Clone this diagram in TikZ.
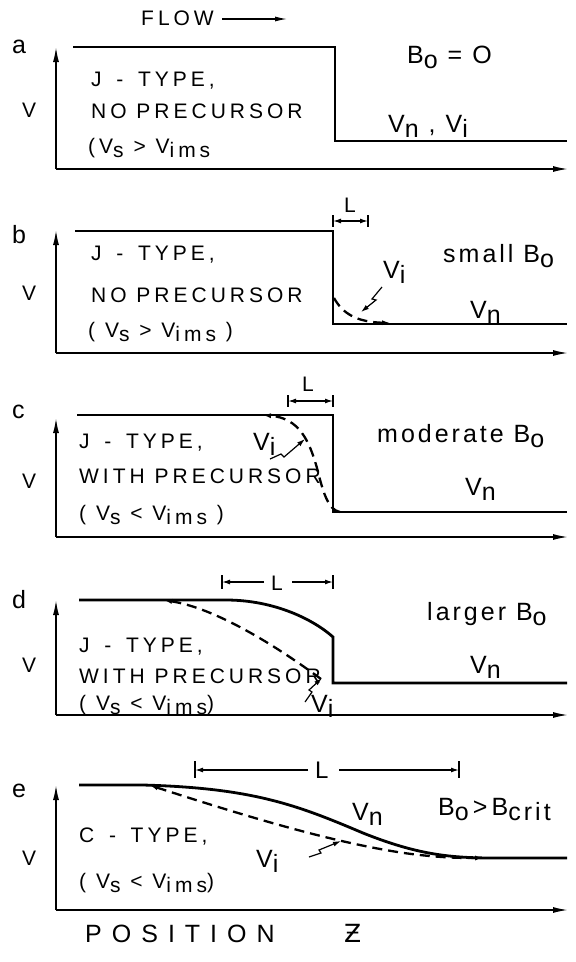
\documentclass[tikz,border=0pt]{standalone}
\usepackage{fontspec}
\setmainfont{Liberation Sans}[LetterSpace=19]
\newfontfamily\rf{Liberation Sans}[LetterSpace=12]
\newfontfamily\pf{Liberation Sans}[LetterSpace=40]
\newfontfamily\zf{DejaVu Sans}
\usetikzlibrary{arrows.meta}
\newcommand\lowsub[1]{\raisebox{-0.22em}{#1}}
\newcommand\dsh{\hspace{.7em}-\hspace{.7em}}
\begin{document}
\begin{tikzpicture}[x=1pt,y=-1pt,
  axisline/.style={line width=1.5pt,-{Latex[length=15pt,width=6pt]}},
  mainline/.style={line width=2.8pt,line join=miter},
  dashline/.style={line width=2.3pt,dash pattern=on 10pt off 6pt},
  ltext/.style={anchor=base west,font=\fontsize{21}{21}\selectfont,inner sep=0pt},
  rtext/.style={anchor=base west,font=\rf\fontsize{25}{25}\selectfont,inner sep=0pt},
  ptext/.style={anchor=base west,font=\rf\fontsize{25}{25}\selectfont,inner sep=0pt},
  vtext/.style={anchor=base west,font=\rf\fontsize{21}{21}\selectfont,inner sep=0pt},
  tickline/.style={line width=1.3pt},
  dimarrow/.style={line width=1.3pt,-{Latex[length=8pt,width=5pt]}},
  pointer/.style={line width=1.2pt,-{Latex[length=8pt,width=5pt]}},
  smalltip/.style={-{Latex[length=9pt,width=5pt]}},
]
\useasboundingbox (0,0) rectangle (576,962);

% ---------------- panel a ----------------
\node[ptext] (pa) at (12,53) {a};
\node[ltext] (flow) at (141,25) {FLOW};
\coordinate (fs) at (222,19);
\coordinate (fe) at (287,19);
\draw[line width=1.2pt,-{Latex[length=12pt,width=5pt]}] (fs) -- (fe);
\node[vtext] (va) at (22,117) {V};
\coordinate (oa) at (56,169);
\draw[axisline] (oa) -- (56,47);
\draw[axisline] (oa) -- (568,169);
\draw[mainline] (73,47) -- (335,47) -- (335,141) -- (567,141);
\node[ltext] (a1) at (91,86) {J\dsh TYPE,};
\node[ltext] (a2) at (91,118) {NO PRECURSOR};
\node[ltext] (a3) at (88,153) {(V\lowsub{s} > V\lowsub{ims}};
\node[rtext] (a4) at (407,63) {B\lowsub{o} = O};
\node[rtext] (a5) at (388,132) {V\lowsub{n} , V\lowsub{i}};

% ---------------- panel b ----------------
\node[ptext] (pb) at (12,243) {b};
\node[vtext] (vb) at (22,300) {V};
\coordinate (ob) at (56,353);
\draw[axisline] (ob) -- (56,230);
\draw[axisline] (ob) -- (568,353);
\draw[mainline] (75,231) -- (333,231) -- (333,324) -- (567,324);
\draw[dashline,smalltip] (334,298) .. controls (343,314) and (357,322) .. (391,323);
\draw[tickline] (333,215) -- (333,227);
\draw[tickline] (368,215) -- (368,227);
\coordinate (bl1) at (333,221);
\coordinate (bl2) at (368,221);
\draw[dimarrow,{Latex[length=8pt,width=5pt]}-{Latex[length=8pt,width=5pt]}] (bl1) -- (bl2);
\node[ltext] (bL) at (344,212) {L};
\node[rtext] (bvi) at (383,278) {V\lowsub{i}};
\draw[pointer] (382,287) -- (372,299) -- (376,300) -- (361,312);
\node[rtext] (b1) at (443,262) {small B\lowsub{o}};
\node[rtext] (b2) at (470,318) {V\lowsub{n}};
\node[ltext] (b3) at (91,260) {J\dsh TYPE,};
\node[ltext] (b4) at (91,302) {NO PRECURSOR};
\node[ltext] (b5) at (88,337) {( V\lowsub{s} > V\lowsub{ims} )};

% ---------------- panel c ----------------
\node[ptext] (pc) at (12,418) {c};
\node[vtext] (vc) at (22,488) {V};
\coordinate (oc) at (56,537);
\draw[axisline] (oc) -- (56,418);
\draw[axisline] (oc) -- (568,537);
\draw[mainline] (77,415) -- (333,415) -- (333,512) -- (567,512);
\draw[dashline,smalltip] (340,512) .. controls (328,510) and (323,492) .. (317,468)
   .. controls (309,440) and (299,418) .. (262,415);
\draw[tickline] (288,395) -- (288,407);
\draw[tickline] (333,395) -- (333,407);
\coordinate (cl1) at (288,401);
\coordinate (cl2) at (333,401);
\draw[dimarrow,{Latex[length=8pt,width=5pt]}-{Latex[length=8pt,width=5pt]}] (cl1) -- (cl2);
\node[ltext] (cL) at (302,391) {L};
\node[ltext] (c1) at (79,448) {J\dsh TYPE,};
\node[rtext] (cvi) at (253,450) {V\lowsub{i}};
\draw[pointer] (270,459) -- (281,454) -- (284,457) -- (305,439);
\node[ltext] (c2) at (79,483) {WITH PRECURSOR};
\node[ltext] (c3) at (79,520) {( V\lowsub{s} < V\lowsub{ims} )};
\node[rtext] (c4) at (377,442) {moderate B\lowsub{o}};
\node[rtext] (c5) at (465,495) {V\lowsub{n}};

% ---------------- panel d ----------------
\node[ptext] (pd) at (12,608) {d};
\node[vtext] (vd) at (22,672) {V};
\coordinate (od) at (56,715);
\draw[axisline] (od) -- (56,600);
\draw[axisline] (od) -- (568,715);
\draw[mainline] (79,600) -- (226,600) .. controls (275,600) and (314,620) .. (333,637)
   -- (333,683) -- (567,683);
\draw[dashline,smalltip] (321,679) .. controls (275,645) and (215,608) .. (163,600);
\draw[tickline] (222,575) -- (222,589);
\draw[tickline] (333,575) -- (333,589);
\node[ltext] (dL) at (271,590) {L};
\coordinate (dl1) at (264,582);
\coordinate (dl2) at (222,582);
\coordinate (dl3) at (292,582);
\coordinate (dl4) at (333,582);
\draw[dimarrow] (dl1) -- (dl2);
\draw[dimarrow] (dl3) -- (dl4);
\node[ltext] (d1) at (79,652) {J\dsh TYPE,};
\node[ltext] (d2) at (79,683) {WITH PRECURSOR};
\node[ltext] (d3) at (79,710) {( V\lowsub{s} < V\lowsub{ims})};
\node[rtext] (dvi) at (311,712) {V\lowsub{i}};
\draw[pointer] (305,702) -- (312,692) -- (309,690) -- (322,678);
\node[rtext] (d4) at (427,620) {larger B\lowsub{o}};
\node[rtext] (d5) at (470,673) {V\lowsub{n}};

% ---------------- panel e ----------------
\node[ptext] (pe) at (12,797) {e};
\node[vtext] (ve) at (22,865) {V};
\coordinate (oe) at (56,910);
\draw[axisline] (oe) -- (56,785);
\draw[axisline] (oe) -- (568,910);
\draw[mainline] (79,785) -- (143,785) .. controls (253,788) and (297,805) .. (363,833)
   .. controls (418,855) and (451,858) .. (495,858) -- (567,858);
\draw[dashline,{Latex[length=9pt,width=5pt]}-{Latex[length=9pt,width=5pt]}]
   (149,785) .. controls (242,815) and (330,842) .. (404,853)
   .. controls (440,858) and (462,858) .. (484,858);
\draw[tickline] (195,761) -- (195,778);
\draw[tickline] (459,761) -- (459,778);
\node[ltext,font=\fontsize{24}{24}\selectfont] (eL) at (315,778) {L};
\coordinate (el1) at (308,770);
\coordinate (el2) at (195,770);
\coordinate (el3) at (339,770);
\coordinate (el4) at (459,770);
\draw[dimarrow] (el1) -- (el2);
\draw[dimarrow] (el3) -- (el4);
\node[rtext] (evn) at (352,820) {V\lowsub{n}};
\node[rtext] (evi) at (256,867) {V\lowsub{i}};
\draw[pointer] (309,857) -- (321,853) -- (319,850) -- (341,841);
\node[rtext] (e1) at (438,815) {B\lowsub{o}\,>\,B\lowsub{crit}};
\node[ltext] (e2) at (79,842) {C\dsh TYPE,};
\node[ltext] (e3) at (79,888) {( V\lowsub{s} < V\lowsub{ims})};

% ---------------- axis title ----------------
\node[anchor=base west,font=\pf\fontsize{25}{25}\selectfont,inner sep=0pt] (pos) at (85,942) {POSITION};
\node[anchor=base west,font=\zf\fontsize{25}{25}\selectfont,inner sep=0pt] (zz) at (344,942) {Ƶ};
\end{tikzpicture}
\end{document}
